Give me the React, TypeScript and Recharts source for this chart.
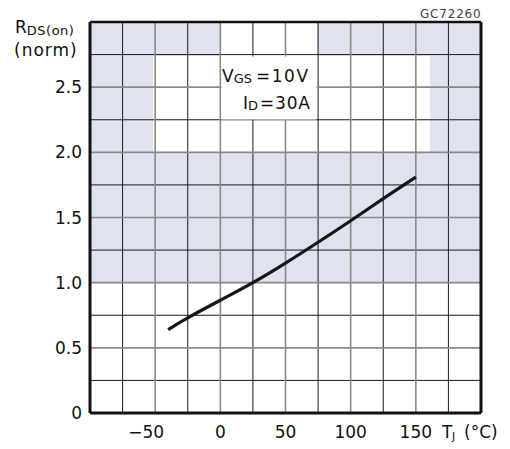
import React from 'react';
import { LineChart, Line, XAxis, YAxis, CartesianGrid, ReferenceLine } from 'recharts';

// junction temperature (°C) vs normalized on-resistance
const temps = [-40, -25, 0, 25, 50, 75, 100, 125, 150];
const rdsNorm = [0.64, 0.73, 0.865, 1.0, 1.15, 1.31, 1.475, 1.645, 1.81];

const xTicks = [-100, -75, -50, -25, 0, 25, 50, 75, 100, 125, 150, 175, 200];
const xLabeled = [-50, 0, 50, 100, 150];
const xMinor = [-75, -25, 25, 75, 125, 175];
const yTicks = [0, 0.25, 0.5, 0.75, 1, 1.25, 1.5, 1.75, 2, 2.25, 2.5, 2.75, 3];
const yLabeled = [0, 0.5, 1, 1.5, 2, 2.5];
const yMajor = [0.5, 1, 1.5, 2, 2.5];
const yMinor = [0.25, 0.75, 1.25, 1.75, 2.25, 2.75];

const data = temps.map((t, i) => ({ t, r: rdsNorm[i] }));

const FONT = '"DejaVu Sans", sans-serif';
const WM = '#dfe3ef';

const XTick = (props: any) => {
  const { x, y, payload } = props;
  const v = payload.value;
  if (!xLabeled.includes(v)) return null;
  const label = v < 0 ? '\u2212' + Math.abs(v) : String(v);
  return (
    <text x={x} y={y} dy="0.71em" dx={v < 0 ? -9 : 0} textAnchor="middle" fontSize={17} fill="#111" fontFamily={FONT}>
      {label}
    </text>
  );
};

const yFmt = (v: number) => (yLabeled.includes(v) ? (v === 0 ? '0' : v.toFixed(1)) : '');

export default function App() {
  return (
    <div style={{ position: 'absolute', left: 0, top: 0, width: 510, height: 449, background: '#fff', fontFamily: FONT, overflow: 'hidden' }}>
      {/* faint watermark behind the grid */}
      <div style={{ position: 'absolute', left: 90, top: 152, width: 391, height: 131, background: WM }} />
      <div style={{ position: 'absolute', left: 90, top: 22, width: 63, height: 130, background: WM }} />
      <div style={{ position: 'absolute', left: 153, top: 22, width: 67, height: 34, background: WM }} />
      <div style={{ position: 'absolute', left: 317, top: 22, width: 164, height: 34, background: WM }} />
      <div style={{ position: 'absolute', left: 430, top: 56, width: 51, height: 96, background: WM }} />

      <div style={{ position: 'absolute', left: 0, top: 0 }}>
        <LineChart width={510} height={449} data={data} margin={{ top: 22, right: 29, bottom: 0, left: 0 }}>
          <CartesianGrid
            stroke="#1a1a1a"
            strokeWidth={1}
            verticalValues={xMinor}
            horizontalValues={yMinor}
          />
          <CartesianGrid
            stroke="#8a8a8a"
            strokeWidth={1.6}
            verticalValues={xLabeled}
            horizontalValues={yMajor}
          />
          <XAxis
            dataKey="t"
            type="number"
            domain={[-100, 200]}
            ticks={xTicks}
            interval={0}
            height={36}
            tickSize={0}
            tickMargin={13}
            tickLine={false}
            axisLine={{ stroke: '#111', strokeWidth: 3 }}
            tick={<XTick />}
          />
          <YAxis
            type="number"
            domain={[0, 3]}
            ticks={yTicks}
            interval={0}
            width={90}
            tickSize={0}
            tickMargin={8}
            tickLine={false}
            axisLine={{ stroke: '#111', strokeWidth: 3 }}
            tickFormatter={yFmt}
            tick={{ fontSize: 17, fill: '#111', fontFamily: FONT }}
          />
          <ReferenceLine y={3} stroke="#111" strokeWidth={2.5} />
          <ReferenceLine x={200} stroke="#111" strokeWidth={3} />
          <Line
            dataKey="r"
            type="natural"
            stroke="#161616"
            strokeWidth={3.2}
            dot={false}
            isAnimationActive={false}
          />
        </LineChart>
      </div>

      <svg width={510} height={449} style={{ position: 'absolute', left: 0, top: 0, pointerEvents: 'none' }} fontFamily={FONT}>
        <rect x={221.5} y={56.5} width={95} height={63} fill="#fff" />
        <text x={222} y={82} fontSize={17} fill="#111">
          V<tspan fontSize={13} dy={1}>GS</tspan>
        </text>
        <text x={256} y={82} fontSize={17} fill="#111" letterSpacing={1.5}>=10V</text>
        <text x={243} y={109} fontSize={17} fill="#111">
          I<tspan fontSize={13} dy={1}>D</tspan>
        </text>
        <text x={260} y={109} fontSize={17} fill="#111" letterSpacing={0.8}>=30A</text>

        <text x={15} y={33} fontSize={17} fill="#111">
          R<tspan fontSize={13} dy={2} letterSpacing={0.5}>DS(on)</tspan>
        </text>
        <text x={14} y={56} fontSize={17} fill="#111" letterSpacing={1}>(norm)</text>

        <text x={420} y={18} fontSize={12} fill="#444" letterSpacing={0.8}>GC72260</text>

        <text x={442} y={438} fontSize={17} fill="#111">T</text>
        <text x={452} y={440} fontSize={11} fill="#111">J</text>
        <text x={464} y={438} fontSize={17} fill="#111">(°C)</text>
      </svg>
    </div>
  );
}
